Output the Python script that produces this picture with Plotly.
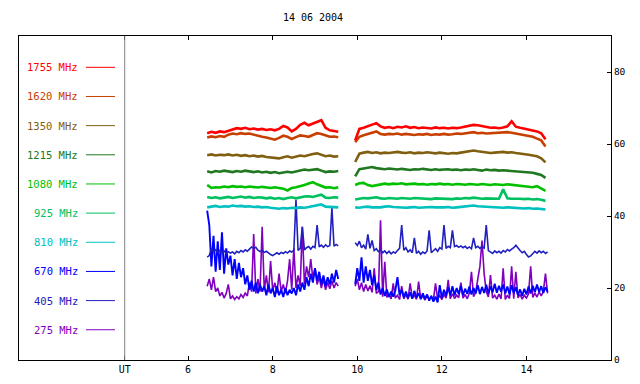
import numpy as np
import plotly.graph_objects as go

# ---------------- data ----------------
freqs = ["1755 MHz", "1620 MHz", "1350 MHz", "1215 MHz", "1080 MHz",
         "925 MHz", "810 MHz", "670 MHz", "405 MHz", "275 MHz"]
colors = ["#ff0000", "#c84000", "#806010", "#207820", "#00c000",
          "#00c060", "#00c0c0", "#0000ff", "#2020c0", "#8000c0"]

# sampling grids (hours UT)
seg1_start, seg2_start = 6.45, 9.95
coarse_step, fine_step = 0.1, 0.05

# upper channels, coarse sampling
s1755_a = [63.0, 63.4, 63.1, 63.5, 63.3, 63.6, 64.0, 64.4, 64.2, 64.5, 64.1, 64.3, 64.0, 64.2, 63.9, 64.1,
           63.8, 64.2, 65.0, 64.6, 63.5, 64.2, 65.3, 65.9, 65.2, 65.6, 66.2, 66.6, 64.5, 63.8, 63.6, 63.4]
s1755_b = [61.0, 64.2, 64.5, 64.9, 65.4, 65.8, 64.9, 64.5, 64.7, 64.4, 64.8, 64.6, 64.9, 64.5, 64.7, 64.4,
           64.6, 64.5, 64.3, 64.6, 64.4, 64.5, 64.3, 64.5, 64.4, 64.6, 64.8, 65.0, 65.3, 65.2, 65.0, 64.7,
           64.5, 64.6, 64.4, 64.6, 64.9, 66.3, 64.8, 64.5, 64.3, 64.1, 63.8, 63.5, 63.0, 61.3]
s1620_a = [61.8, 62.1, 61.9, 62.2, 62.0, 62.6, 62.9, 62.7, 63.0, 62.8, 62.9, 62.6, 62.1, 62.0, 61.8, 61.5,
           61.2, 61.7, 62.3, 62.0, 61.4, 61.9, 62.4, 62.2, 62.0, 62.5, 63.0, 62.8, 62.3, 62.0, 62.1, 61.9]
s1620_b = [60.5, 62.0, 62.4, 62.8, 63.3, 63.5, 62.8, 62.6, 62.8, 62.7, 62.9, 62.6, 62.8, 62.7, 62.5, 62.7,
           62.6, 62.8, 62.5, 62.7, 62.6, 62.8, 62.6, 62.7, 62.9, 62.8, 63.0, 63.2, 63.3, 63.0, 63.1, 62.9,
           63.0, 63.1, 63.0, 63.2, 63.3, 63.1, 62.9, 62.8, 62.6, 62.4, 62.0, 61.5, 61.0, 59.3]
s1350_a = [56.9, 57.1, 56.8, 57.0, 56.9, 57.1, 56.8, 57.0, 56.7, 56.9, 56.6, 56.8, 56.5, 56.7, 56.4, 56.3,
           56.1, 56.0, 56.3, 56.6, 56.2, 56.5, 56.8, 56.6, 57.0, 57.2, 57.4, 57.0, 56.6, 56.8, 56.5, 56.6]
s1350_b = [55.0, 57.3, 57.6, 57.8, 57.5, 57.7, 57.4, 57.6, 57.5, 57.7, 57.8, 57.6, 57.5, 57.7, 57.4, 57.6,
           57.5, 57.7, 57.6, 57.4, 57.6, 57.5, 57.3, 57.5, 57.4, 57.6, 57.8, 58.1, 58.2, 58.0, 57.8, 57.7,
           57.5, 57.6, 57.7, 57.8, 57.6, 57.7, 57.5, 57.4, 57.2, 57.0, 56.8, 56.6, 56.0, 54.9]
s1215_a = [52.4, 52.1, 52.5, 52.3, 52.6, 52.4, 52.2, 52.5, 52.3, 52.6, 52.4, 52.2, 52.4, 52.1, 52.3, 52.0,
           52.2, 51.9, 52.1, 52.3, 52.1, 52.4, 52.6, 52.9, 52.7, 52.8, 53.0, 52.6, 52.2, 52.4, 52.3, 52.5]
s1215_b = [51.0, 53.0, 53.2, 53.5, 53.6, 53.3, 53.1, 53.0, 53.2, 53.0, 52.9, 53.1, 53.0, 52.8, 53.0, 52.9,
           53.1, 52.9, 52.8, 53.0, 52.8, 52.9, 53.0, 52.8, 52.9, 52.7, 52.9, 52.8, 53.0, 52.8, 52.6, 52.9,
           52.7, 52.8, 52.6, 52.7, 52.6, 52.5, 52.6, 52.4, 52.3, 52.2, 52.0, 51.7, 51.4, 50.6]
s1080_a = [48.6, 47.8, 48.0, 47.9, 48.2, 48.0, 48.3, 48.1, 48.2, 48.0, 48.2, 48.1, 47.9, 48.1, 48.0, 47.8,
           48.0, 47.9, 47.6, 47.1, 47.8, 48.0, 48.2, 48.6, 49.0, 49.4, 48.8, 48.4, 47.9, 48.0, 47.7, 48.0]
s1080_b = [48.6, 49.1, 49.2, 48.6, 48.3, 48.6, 48.9, 49.0, 48.8, 49.0, 48.9, 49.1, 48.8, 48.9, 49.0, 48.8,
           48.9, 48.7, 48.9, 48.8, 49.0, 48.8, 48.9, 48.7, 48.9, 48.8, 48.7, 48.9, 48.8, 48.7, 48.9, 48.8,
           48.6, 48.8, 48.7, 48.6, 48.8, 48.7, 48.5, 48.4, 48.2, 48.1, 48.0, 48.3, 47.6, 47.0]
s925_a = [45.3, 45.0, 45.2, 44.9, 45.1, 45.3, 45.0, 45.2, 45.4, 45.1, 45.3, 45.0, 45.2, 45.1, 44.9, 45.1,
          44.8, 45.0, 44.7, 45.0, 45.2, 44.9, 45.2, 45.4, 45.5, 45.3, 45.6, 45.9, 45.1, 45.0, 45.2, 45.1]
s925_b = [44.6, 44.8, 45.0, 44.9, 45.1, 45.2, 44.9, 44.8, 45.0, 44.9, 44.8, 45.0, 44.9, 44.8, 45.0, 44.9,
          44.8, 44.9, 44.7, 44.9, 44.8, 44.9, 44.8, 44.7, 44.9, 44.8, 45.0, 44.9, 45.1, 44.9, 44.8, 44.9,
          44.8, 44.9, 44.8, 47.4, 44.9, 44.8, 44.9, 44.8, 44.7, 44.8, 44.6, 44.7, 44.5, 44.2]
s810_a = [42.4, 42.6, 42.8, 42.5, 42.7, 42.6, 42.9, 42.7, 42.8, 42.6, 42.7, 42.5, 42.6, 42.4, 42.5, 42.3,
          42.2, 42.0, 42.2, 42.1, 42.3, 42.2, 42.4, 42.3, 42.5, 42.8, 43.1, 43.2, 42.6, 42.5, 42.6, 42.4]
s810_b = [42.4, 42.3, 42.5, 42.6, 42.4, 42.3, 42.4, 42.6, 42.7, 42.5, 42.4, 42.5, 42.3, 42.4, 42.5, 42.3,
          42.4, 42.3, 42.5, 42.4, 42.3, 42.4, 42.5, 42.3, 42.4, 42.5, 42.6, 42.8, 42.9, 42.7, 42.6, 42.5,
          42.4, 42.3, 42.4, 42.3, 42.4, 42.3, 42.2, 42.3, 42.1, 42.2, 42.0, 42.1, 41.9, 41.8]

# lower channels, fine sampling
s670_a = [41.5, 37.5, 26.0, 34.5, 24.5, 33.0, 25.0, 35.5, 24.0, 31.0, 26.5, 29.0, 23.5, 28.0, 22.5, 27.0,
          23.0, 25.5, 21.0, 23.5, 19.5, 22.0, 19.0, 21.5, 18.5, 21.0, 19.0, 20.5, 18.0, 21.0, 18.5, 20.0,
          17.5, 20.5, 18.0, 19.5, 17.5, 20.0, 18.0, 19.5, 18.5, 20.0, 18.0, 21.0, 19.0, 21.5, 19.5, 23.0,
          20.5, 24.0, 21.5, 25.5, 22.0, 24.5, 21.0, 23.5, 20.5, 23.0, 21.0, 24.0, 21.5, 25.0, 22.5]
s670_b = [21.0, 25.5, 22.0, 28.5, 21.5, 26.0, 22.0, 25.0, 20.8, 23.5, 19.5, 21.5, 18.2, 20.0, 17.8, 19.6,
          17.5, 19.0, 17.6, 19.3, 23.0, 18.0, 19.5, 17.4, 19.0, 17.2, 18.8, 17.0, 19.2, 17.3, 18.6, 16.9,
          18.5, 17.0, 18.2, 16.5, 17.8, 16.2, 17.6, 16.0, 20.8, 17.2, 19.5, 17.8, 20.2, 18.0, 20.5, 17.9,
          20.0, 18.3, 20.6, 18.0, 19.8, 18.4, 20.4, 18.2, 20.0, 18.5, 20.8, 18.3, 20.3, 18.6, 20.9, 18.4,
          20.5, 18.8, 21.2, 18.7, 20.6, 19.0, 21.0, 18.5, 20.4, 18.2, 20.8, 18.6, 20.2, 18.0, 19.6, 17.8,
          19.8, 18.2, 20.4, 18.5, 20.6, 18.8, 21.0, 18.9, 20.5, 18.6, 20.2, 19.0]
s405_a = [28.6, 29.0, 30.8, 30.2, 30.6, 29.8, 30.4, 29.9, 30.3, 29.6, 30.1, 29.7, 30.0, 29.5, 30.2, 29.8,
          30.4, 30.0, 30.6, 30.2, 30.8, 31.4, 31.0, 31.3, 30.5, 30.1, 30.4, 29.9, 30.2, 29.6, 29.3, 29.0,
          29.5, 29.8, 29.4, 29.9, 29.6, 30.1, 29.7, 30.3, 30.0, 30.5, 44.5, 30.4, 31.0, 37.0, 30.6, 31.2,
          31.5, 30.8, 31.6, 31.2, 37.5, 31.4, 31.9, 31.3, 32.0, 31.5, 31.8, 42.3, 31.6, 32.1, 31.7]
s405_b = [32.6, 31.8, 33.0, 31.2, 31.9, 30.8, 34.9, 31.0, 33.2, 30.4, 30.9, 30.1, 30.6, 29.8, 30.3, 29.6,
          30.2, 29.5, 30.0, 29.7, 30.4, 31.0, 37.5, 30.5, 31.2, 30.0, 30.6, 29.8, 33.9, 29.6, 30.2, 29.4,
          30.0, 29.6, 30.3, 36.0, 29.8, 30.4, 30.9, 30.2, 31.2, 30.8, 37.5, 31.0, 31.6, 31.2, 36.0, 31.5,
          31.8, 31.3, 31.7, 31.2, 31.6, 31.0, 31.4, 30.9, 33.9, 31.2, 31.6, 31.0, 31.5, 31.1, 37.5, 30.4,
          30.0, 29.6, 30.3, 29.8, 30.2, 29.7, 30.4, 30.0, 30.7, 30.3, 30.8, 31.2, 31.9, 31.0, 30.4, 29.8,
          30.2, 29.3, 28.6, 28.9, 29.6, 30.2, 29.7, 30.3, 29.8, 30.2, 29.6, 30.0]
s275_a = [20.5, 22.5, 19.5, 23.0, 19.0, 20.0, 17.8, 18.8, 17.2, 18.5, 21.0, 17.0, 17.8, 16.8, 17.6, 17.0,
          18.2, 17.4, 18.6, 17.8, 21.5, 19.0, 35.0, 18.5, 22.5, 19.0, 37.0, 19.5, 23.5, 18.8, 27.5, 19.2,
          21.5, 18.6, 24.0, 19.0, 21.0, 18.5, 22.0, 28.0, 19.5, 31.0, 20.0, 23.5, 20.5, 37.0, 21.0, 26.0,
          23.0, 28.0, 22.5, 25.5, 21.0, 23.0, 20.0, 22.5, 19.5, 21.5, 19.8, 22.0, 20.0, 21.5, 20.5]
s275_b = [20.5, 22.5, 19.5, 21.5, 19.0, 21.0, 19.2, 20.6, 18.8, 25.5, 18.5, 19.0, 38.8, 17.6, 27.3, 17.4,
          18.2, 17.0, 21.3, 17.2, 18.0, 16.8, 20.5, 17.0, 18.2, 16.9, 21.3, 17.2, 18.0, 16.8, 21.8, 17.0,
          17.8, 16.6, 18.0, 16.8, 17.6, 16.7, 21.3, 17.0, 17.9, 16.8, 18.2, 17.2, 22.3, 17.0, 18.4, 17.1,
          18.0, 17.3, 21.5, 17.2, 18.2, 17.0, 18.6, 24.5, 17.6, 18.8, 22.5, 26.0, 33.2, 24.0, 19.0, 17.5,
          23.6, 17.2, 18.0, 16.9, 18.3, 17.0, 25.5, 16.8, 18.0, 17.1, 26.0, 17.0, 24.5, 17.3, 18.2, 16.9,
          18.0, 17.2, 18.4, 26.0, 17.4, 18.6, 17.5, 18.9, 17.8, 19.0, 24.0, 18.5]

series = {
    "1755 MHz": (s1755_a, s1755_b), "1620 MHz": (s1620_a, s1620_b),
    "1350 MHz": (s1350_a, s1350_b), "1215 MHz": (s1215_a, s1215_b),
    "1080 MHz": (s1080_a, s1080_b), "925 MHz": (s925_a, s925_b),
    "810 MHz": (s810_a, s810_b), "670 MHz": (s670_a, s670_b),
    "405 MHz": (s405_a, s405_b), "275 MHz": (s275_a, s275_b),
}

x_tickvals = [4.5, 6, 8, 10, 12, 14]
x_ticktext = ["UT", "6", "8", "10", "12", "14"]
y_tickvals = [0, 20, 40, 60, 80]
title_text = "14 06 2004"


def grid(start, step, n):
    return [round(start + step * i, 3) for i in range(n)]


fig = go.Figure()
FONT = "DejaVu Sans Mono"

widths = {"670 MHz": 1.9, "275 MHz": 1.6, "405 MHz": 1.6}

# draw order: low channels first
order = ["275 MHz", "670 MHz", "405 MHz", "810 MHz", "925 MHz", "1080 MHz",
         "1215 MHz", "1350 MHz", "1620 MHz", "1755 MHz"]
for name in order:
    a, b = series[name]
    col = colors[freqs.index(name)]
    fine = len(a) > 40
    step = fine_step if fine else coarse_step
    xa = grid(seg1_start, step, len(a))
    xb = grid(seg2_start, step, len(b))
    fig.add_trace(go.Scatter(
        x=xa + [None] + xb, y=a + [None] + b, mode="lines",
        line=dict(color=col, width=widths.get(name, 2.6)),
        showlegend=False, hoverinfo="skip", connectgaps=False))

# custom legend on the left
leg_y0, leg_dy = 81.3, 8.1
for i, (name, col) in enumerate(zip(freqs, colors)):
    yv = leg_y0 - i * leg_dy
    fig.add_annotation(x=3.44, y=yv, xref="x", yref="y", text=name, showarrow=False,
                       xanchor="right", yanchor="middle",
                       font=dict(family=FONT, size=10.5, color=col))
    fig.add_shape(type="line", x0=3.584, x1=4.27, y0=yv, y1=yv, xref="x", yref="y",
                  line=dict(color=col, width=1))

# UT separator line
fig.add_shape(type="line", x0=4.5, x1=4.5, y0=0, y1=90, xref="x", yref="y",
              line=dict(color="#808080", width=1))

fig.update_layout(
    width=640, height=384,
    margin=dict(l=19, r=29, t=36, b=24, autoexpand=False),
    paper_bgcolor="white", plot_bgcolor="white",
    font=dict(family=FONT, size=10, color="black"),
    title=dict(text=title_text, x=313 / 640, xanchor="center", xref="container",
               y=1 - 17 / 384, yanchor="middle", yref="container",
               font=dict(family=FONT, size=10, color="black")),
    xaxis=dict(range=[2, 16], tickvals=x_tickvals, ticktext=x_ticktext, automargin=False,
               ticks="inside", ticklen=4, tickcolor="black", showline=True, linecolor="black",
               linewidth=1, mirror="ticks", showgrid=False, zeroline=False,
               tickfont=dict(family=FONT, size=10)),
    yaxis=dict(range=[0, 90], tickvals=y_tickvals, side="right", ticks="inside", ticklen=4,
               tickcolor="black", showline=True, linecolor="black", linewidth=1, mirror=True,
               automargin=False, showgrid=False, zeroline=False,
               tickfont=dict(family=FONT, size=9.5)),
)

fig.write_html("out.html", config={"displayModeBar": False},
               post_script="document.body.style.margin='0px';document.body.style.overflow='hidden';")
